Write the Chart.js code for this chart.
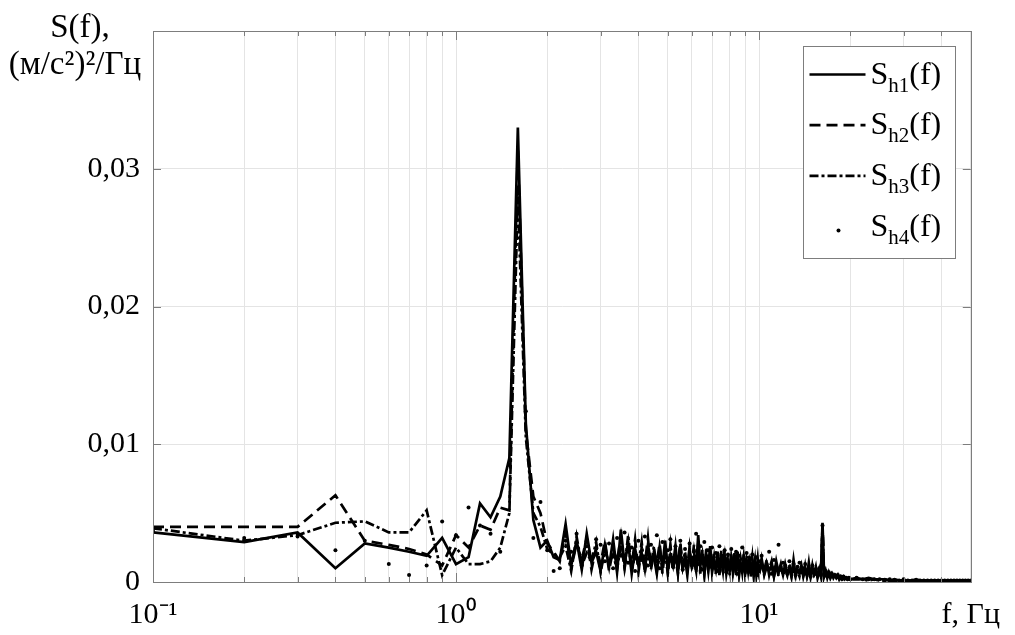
<!DOCTYPE html>
<html>
<head>
<meta charset="utf-8">
<title>S(f)</title>
<script src="https://cdn.jsdelivr.net/npm/chart.js"></script>
<style>
  body { margin: 0; background: #fff; }
</style>
</head>
<body>
<canvas id="myChart" width="1015" height="635"></canvas>
<script>

// frequency, Hz
var freq = [
  0.1, 0.2, 0.3, 0.4, 0.5, 0.6, 0.7, 0.8, 0.9, 1.0,
  1.1, 1.2, 1.3, 1.4, 1.5, 1.6, 1.7, 1.8, 1.9, 2.0,
  2.1, 2.2, 2.3, 2.4, 2.5, 2.6, 2.7, 2.8, 2.9, 3.0,
  3.1, 3.2, 3.3, 3.4, 3.5, 3.6, 3.7, 3.8, 3.9, 4.0,
  4.1, 4.2, 4.3, 4.4, 4.5, 4.6, 4.7, 4.8, 4.9, 5.0,
  5.1, 5.2, 5.3, 5.4, 5.5, 5.6, 5.7, 5.8, 5.9, 6.0,
  6.1, 6.2, 6.3, 6.4, 6.5, 6.6, 6.7, 6.8, 6.9, 7.0,
  7.1, 7.2, 7.3, 7.4, 7.5, 7.6, 7.7, 7.8, 7.9, 8.0,
  8.1, 8.2, 8.3, 8.4, 8.5, 8.6, 8.7, 8.8, 8.9, 9.0,
  9.1, 9.2, 9.3, 9.4, 9.5, 9.6, 9.7, 9.8, 9.9, 10.0,
  10.2, 10.4, 10.6, 10.8, 11.0, 11.2, 11.4, 11.6, 11.8, 12.0,
  12.2, 12.4, 12.6, 12.8, 13.0, 13.2, 13.4, 13.6, 13.8, 14.0,
  14.2, 14.4, 14.6, 14.8, 15.0, 15.2, 15.4, 15.6, 15.8, 16.0,
  16.2, 16.4, 16.6, 16.8, 17.0, 17.2, 17.4, 17.6, 17.8, 18.0,
  18.2, 18.4, 18.6, 18.8, 19.0, 19.2, 19.4, 19.6, 19.8, 20.0,
  21, 22, 23, 24, 25, 26, 27, 28, 29, 30,
  31, 32, 33, 34, 35, 36, 37, 38, 39, 40,
  41, 42, 43, 44, 45, 46, 47, 48, 49, 50
];

// S_h1(f), (m/s^2)^2/Hz
var sh1 = [
  0.0036, 0.0029, 0.0036, 0.0010, 0.0028, 0.0025, 0.0022, 0.0019, 0.0032, 0.0013,
  0.0018, 0.0057, 0.0047, 0.0062, 0.0090, 0.0330, 0.0115, 0.0045, 0.0025, 0.0030,
  0.0018, 0.0016, 0.0042, 0.0012, 0.0030, 0.0009, 0.0035, 0.0014, 0.0022, 0.0008,
  0.0027, 0.0011, 0.0031, 0.0007, 0.0038, 0.0013, 0.0029, 0.0006, 0.0024, 0.0012,
  0.0021, 0.0009, 0.0027, 0.0014, 0.0018, 0.0006, 0.0025, 0.0011, 0.0030, 0.0008,
  0.0019, 0.0012, 0.0026, 0.0007, 0.0022, 0.0010, 0.0017, 0.0005, 0.0023, 0.0011,
  0.0016, 0.0008, 0.0034, 0.0012, 0.0020, 0.0006, 0.0018, 0.0010, 0.0026, 0.0007,
  0.0015, 0.0009, 0.0021, 0.0005, 0.0017, 0.0011, 0.0019, 0.0006, 0.0014, 0.0008,
  0.0020, 0.0007, 0.0016, 0.0010, 0.0022, 0.0005, 0.0013, 0.0009, 0.0018, 0.0006,
  0.0015, 0.0008, 0.0019, 0.0004, 0.0012, 0.0009, 0.0016, 0.0005, 0.0013, 0.0007,
  0.0017, 0.0006, 0.0014, 0.0008, 0.0012, 0.0004, 0.0015, 0.0007, 0.0011, 0.0005,
  0.0013, 0.0006, 0.0010, 0.0004, 0.0016, 0.0005, 0.0009, 0.0007, 0.0012, 0.0004,
  0.0010, 0.0005, 0.0014, 0.0004, 0.0009, 0.0006, 0.0011, 0.0003, 0.0008, 0.0005,
  0.0043, 0.0004, 0.0008, 0.0003, 0.0007, 0.0004, 0.0006, 0.0003, 0.0005, 0.0003,
  0.0005, 0.0002, 0.0004, 0.0003, 0.0004, 0.0002, 0.0003, 0.0002, 0.0003, 0.0002,
  0.0003, 0.0002, 0.0003, 0.0002, 0.0002, 0.0002, 0.0001, 0.0002, 0.0001, 0.0001,
  0.0001, 0.0001, 0.0002, 0.0001, 0.0001, 0.0001, 0.0001, 0.0001, 0.0001, 0.0001,
  0.0001, 0.0001, 0.0001, 0.0001, 0.0001, 0.0001, 0.0001, 0.0001, 0.0001, 0.0001
];

// S_h2(f)
var sh2 = [
  0.0040, 0.0040, 0.0040, 0.0063, 0.0030, 0.0027, 0.0024, 0.0020, 0.0012, 0.0034,
  0.0025, 0.0041, 0.0038, 0.0054, 0.0052, 0.0315, 0.0110, 0.0062, 0.0050, 0.0028,
  0.0022, 0.0015, 0.0036, 0.0010, 0.0028, 0.0016, 0.0032, 0.0009, 0.0025, 0.0013,
  0.0030, 0.0008, 0.0024, 0.0015, 0.0033, 0.0010, 0.0026, 0.0012, 0.0031, 0.0007,
  0.0025, 0.0013, 0.0032, 0.0009, 0.0022, 0.0014, 0.0028, 0.0006, 0.0024, 0.0012,
  0.0027, 0.0008, 0.0021, 0.0013, 0.0029, 0.0007, 0.0020, 0.0011, 0.0025, 0.0009,
  0.0022, 0.0010, 0.0028, 0.0006, 0.0024, 0.0012, 0.0019, 0.0008, 0.0023, 0.0010,
  0.0018, 0.0006, 0.0022, 0.0011, 0.0016, 0.0008, 0.0024, 0.0007, 0.0018, 0.0010,
  0.0015, 0.0009, 0.0021, 0.0006, 0.0019, 0.0011, 0.0014, 0.0007, 0.0020, 0.0008,
  0.0016, 0.0006, 0.0013, 0.0010, 0.0018, 0.0005, 0.0014, 0.0009, 0.0017, 0.0006,
  0.0013, 0.0008, 0.0016, 0.0005, 0.0012, 0.0009, 0.0014, 0.0004, 0.0011, 0.0007,
  0.0010, 0.0005, 0.0013, 0.0007, 0.0009, 0.0004, 0.0012, 0.0006, 0.0010, 0.0005,
  0.0012, 0.0004, 0.0009, 0.0006, 0.0011, 0.0004, 0.0008, 0.0005, 0.0009, 0.0004,
  0.0042, 0.0005, 0.0007, 0.0004, 0.0006, 0.0003, 0.0006, 0.0004, 0.0005, 0.0003,
  0.0004, 0.0003, 0.0004, 0.0002, 0.0003, 0.0003, 0.0003, 0.0002, 0.0002, 0.0002,
  0.0002, 0.0002, 0.0002, 0.0002, 0.0001, 0.0002, 0.0001, 0.0001, 0.0001, 0.0001,
  0.0001, 0.0001, 0.0001, 0.0001, 0.0001, 0.0001, 0.0001, 0.0001, 0.0001, 0.0001,
  0.0001, 0.0001, 0.0001, 0.0001, 0.0001, 0.0001, 0.0001, 0.0001, 0.0001, 0.0001
];

// S_h3(f)
var sh3 = [
  0.0039, 0.0030, 0.0034, 0.0043, 0.0044, 0.0036, 0.0036, 0.0052, 0.0005, 0.0025,
  0.0013, 0.0013, 0.0015, 0.0025, 0.0050, 0.0280, 0.0105, 0.0050, 0.0040, 0.0024,
  0.0020, 0.0018, 0.0026, 0.0008, 0.0033, 0.0012, 0.0021, 0.0015, 0.0029, 0.0007,
  0.0023, 0.0014, 0.0020, 0.0009, 0.0027, 0.0011, 0.0034, 0.0008, 0.0020, 0.0013,
  0.0029, 0.0007, 0.0021, 0.0012, 0.0026, 0.0008, 0.0019, 0.0014, 0.0022, 0.0006,
  0.0024, 0.0010, 0.0018, 0.0006, 0.0027, 0.0012, 0.0022, 0.0008, 0.0019, 0.0013,
  0.0027, 0.0007, 0.0021, 0.0011, 0.0016, 0.0005, 0.0025, 0.0009, 0.0017, 0.0012,
  0.0021, 0.0007, 0.0015, 0.0010, 0.0023, 0.0006, 0.0016, 0.0012, 0.0020, 0.0005,
  0.0018, 0.0010, 0.0014, 0.0005, 0.0021, 0.0008, 0.0017, 0.0011, 0.0013, 0.0005,
  0.0019, 0.0007, 0.0015, 0.0010, 0.0012, 0.0004, 0.0017, 0.0008, 0.0011, 0.0006,
  0.0014, 0.0005, 0.0011, 0.0009, 0.0015, 0.0004, 0.0010, 0.0007, 0.0013, 0.0005,
  0.0009, 0.0007, 0.0012, 0.0004, 0.0010, 0.0006, 0.0008, 0.0004, 0.0011, 0.0005,
  0.0008, 0.0005, 0.0010, 0.0004, 0.0012, 0.0005, 0.0007, 0.0004, 0.0009, 0.0003,
  0.0040, 0.0004, 0.0006, 0.0003, 0.0007, 0.0003, 0.0005, 0.0003, 0.0004, 0.0003,
  0.0004, 0.0002, 0.0003, 0.0003, 0.0003, 0.0002, 0.0002, 0.0002, 0.0003, 0.0002,
  0.0002, 0.0002, 0.0001, 0.0002, 0.0001, 0.0001, 0.0001, 0.0001, 0.0001, 0.0001,
  0.0001, 0.0001, 0.0001, 0.0001, 0.0001, 0.0001, 0.0001, 0.0001, 0.0001, 0.0001,
  0.0001, 0.0001, 0.0001, 0.0001, 0.0001, 0.0001, 0.0001, 0.0001, 0.0001, 0.0001
];

// S_h4(f)
var sh4 = [
  0.0037, 0.0032, 0.0033, 0.0023, 0.0030, 0.0013, 0.0005, 0.0012, 0.0044, 0.0034,
  0.0054, 0.0041, 0.0035, 0.0022, 0.0085, 0.0300, 0.0124, 0.0032, 0.0058, 0.0023,
  0.0008, 0.0010, 0.0030, 0.0022, 0.0035, 0.0012, 0.0026, 0.0018, 0.0031, 0.0027,
  0.0015, 0.0028, 0.0010, 0.0032, 0.0019, 0.0036, 0.0014, 0.0025, 0.0008, 0.0030,
  0.0016, 0.0033, 0.0012, 0.0027, 0.0020, 0.0034, 0.0010, 0.0029, 0.0018, 0.0023,
  0.0031, 0.0011, 0.0026, 0.0017, 0.0030, 0.0009, 0.0024, 0.0015, 0.0028, 0.0012,
  0.0022, 0.0035, 0.0013, 0.0026, 0.0009, 0.0029, 0.0016, 0.0023, 0.0011, 0.0025,
  0.0014, 0.0021, 0.0008, 0.0026, 0.0012, 0.0019, 0.0023, 0.0007, 0.0020, 0.0013,
  0.0024, 0.0010, 0.0018, 0.0022, 0.0006, 0.0019, 0.0012, 0.0025, 0.0009, 0.0016,
  0.0021, 0.0011, 0.0017, 0.0007, 0.0020, 0.0013, 0.0009, 0.0018, 0.0005, 0.0015,
  0.0019, 0.0008, 0.0013, 0.0022, 0.0006, 0.0016, 0.0011, 0.0027, 0.0009, 0.0014,
  0.0012, 0.0006, 0.0015, 0.0009, 0.0013, 0.0005, 0.0011, 0.0014, 0.0007, 0.0010,
  0.0013, 0.0006, 0.0010, 0.0004, 0.0012, 0.0007, 0.0009, 0.0005, 0.0010, 0.0006,
  0.0041, 0.0005, 0.0008, 0.0004, 0.0007, 0.0005, 0.0006, 0.0004, 0.0005, 0.0004,
  0.0005, 0.0003, 0.0004, 0.0002, 0.0004, 0.0003, 0.0003, 0.0002, 0.0003, 0.0002,
  0.0003, 0.0002, 0.0002, 0.0002, 0.0002, 0.0001, 0.0002, 0.0001, 0.0001, 0.0002,
  0.0001, 0.0001, 0.0001, 0.0001, 0.0001, 0.0001, 0.0001, 0.0001, 0.0001, 0.0001,
  0.0001, 0.0001, 0.0001, 0.0001, 0.0001, 0.0001, 0.0001, 0.0001, 0.0001, 0.0001
];

var seriesSubs = ['h1', 'h2', 'h3', 'h4'];

// grid lines on the log axis and the labels shown under them
var xGridValues = [0.1, 0.2, 0.3, 0.4, 0.5, 0.6, 0.7, 0.8, 0.9,
                   1, 2, 3, 4, 5, 6, 7, 8, 9,
                   10, 20, 30, 40, 50];
var xTickLabels = { '0.1': '10\u207B\u00B9', '1': '10\u2070', '10': '10\u00B9', '50': 'f, \u0413\u0446' };
var yTickValues = [0, 0.01, 0.02, 0.03, 0.04];
var yTickLabels = ['0', '0,01', '0,02', '0,03', ''];

var serif = "'Liberation Serif', 'Times New Roman', serif";

function points(values) {
    return freq.map(function (f, i) { return { x: f, y: values[i] }; });
}

// box round the plot and MATLAB-style ticks pointing inwards
var framePlugin = {
    id: 'frame',
    afterDraw: function (chart) {
        var c = chart.ctx, a = chart.chartArea;
        var xs = chart.scales.x, ys = chart.scales.y;
        c.save();
        c.strokeStyle = '#7d7d7d';
        c.lineWidth = 1;
        c.beginPath();
        xs.ticks.forEach(function (t) {
            var px = Math.round(xs.getPixelForValue(t.value)) + 0.5;
            var len = xTickLabels[String(t.value)] && t.value !== 50 ? 9 : 5;
            c.moveTo(px, a.bottom); c.lineTo(px, a.bottom - len);
            c.moveTo(px, a.top); c.lineTo(px, a.top + len);
        });
        ys.ticks.forEach(function (t) {
            var py = Math.round(ys.getPixelForValue(t.value)) + 0.5;
            c.moveTo(a.left, py); c.lineTo(a.left + 8, py);
            c.moveTo(a.right, py); c.lineTo(a.right - 8, py);
        });
        c.stroke();
        c.strokeRect(Math.round(a.left) + 0.5, Math.round(a.top) + 0.5,
                     Math.round(a.right - a.left), Math.round(a.bottom - a.top));
        c.restore();
    }
};

// y axis caption above the tick labels
var captionPlugin = {
    id: 'caption',
    afterDraw: function (chart) {
        var c = chart.ctx;
        c.save();
        c.fillStyle = '#000';
        c.textAlign = 'center';
        c.textBaseline = 'alphabetic';
        c.font = '33px ' + serif;
        c.fillText('S(f),', 80, 37);
        c.fillText('(\u043C/\u0441\u00B2)\u00B2/\u0413\u0446', 75, 74);
        c.restore();
    }
};

// legend with subscripts, drawn from the dataset styles
var legendPlugin = {
    id: 'subLegend',
    afterDraw: function (chart) {
        var c = chart.ctx, a = chart.chartArea;
        var bx = Math.round(a.right - 168) + 0.5, by = Math.round(a.top + 15) + 0.5;
        c.save();
        c.fillStyle = '#fff';
        c.fillRect(bx, by, 152, 212);
        c.strokeStyle = '#7d7d7d';
        c.lineWidth = 1;
        c.strokeRect(bx, by, 152, 212);
        chart.data.datasets.forEach(function (ds, i) {
            var base = by + 37 + i * 50.7;
            if (ds.showLine === false) {
                c.fillStyle = '#000';
                c.beginPath();
                c.arc(bx + 35, base - 5, 2, 0, Math.PI * 2);
                c.fill();
            } else {
                c.strokeStyle = ds.borderColor;
                c.lineWidth = ds.borderWidth;
                c.setLineDash(ds.borderDash || []);
                c.beginPath();
                c.moveTo(bx + 6, base - 9);
                c.lineTo(bx + 62, base - 9);
                c.stroke();
                c.setLineDash([]);
            }
            var tx = bx + 67;
            c.fillStyle = '#000';
            c.textAlign = 'left';
            c.textBaseline = 'alphabetic';
            c.font = '32px ' + serif;
            c.fillText('S', tx, base);
            tx += c.measureText('S').width;
            c.font = '21px ' + serif;
            c.fillText(seriesSubs[i], tx, base + 8);
            tx += c.measureText(seriesSubs[i]).width;
            c.font = '32px ' + serif;
            c.fillText('(f)', tx, base);
        });
        c.restore();
    }
};

var ctx = document.getElementById('myChart').getContext('2d');
var chart = new Chart(ctx, {
    // The type of chart we want to create
    type: 'line',

    // The data for our dataset
    data: {
        datasets: [{
            label: 'S_h1(f)',
            data: points(sh1),
            borderColor: '#000',
            borderWidth: 2.7,
            pointRadius: 0
        }, {
            label: 'S_h2(f)',
            data: points(sh2),
            borderColor: '#000',
            borderWidth: 2.7,
            borderDash: [11, 6],
            pointRadius: 0
        }, {
            label: 'S_h3(f)',
            data: points(sh3),
            borderColor: '#000',
            borderWidth: 2.7,
            borderDash: [9, 3, 3, 3],
            pointRadius: 0
        }, {
            label: 'S_h4(f)',
            data: points(sh4),
            showLine: false,
            pointRadius: 2,
            pointBorderWidth: 0,
            pointBackgroundColor: '#000'
        }]
    },

    // Configuration options go here
    options: {
        responsive: false,
        animation: false,
        events: [],
        layout: { padding: { top: 30, right: 36, left: 0, bottom: 0 } },
        plugins: {
            legend: { display: false },
            tooltip: { enabled: false }
        },
        scales: {
            x: {
                type: 'logarithmic',
                min: 0.1,
                max: 50,
                afterBuildTicks: function (scale) {
                    scale.ticks = xGridValues.map(function (v) { return { value: v }; });
                },
                afterFit: function (scale) { scale.height = 53; },
                ticks: {
                    autoSkip: false,
                    maxRotation: 0,
                    padding: 15,
                    color: '#000',
                    font: { family: serif, size: 30 },
                    callback: function (value) { return xTickLabels[String(value)] || ''; }
                },
                grid: { color: '#e4e4e4', lineWidth: 1, drawTicks: false },
                border: { display: true, color: '#7d7d7d', width: 1 }
            },
            y: {
                min: 0,
                max: 0.04,
                afterBuildTicks: function (scale) {
                    scale.ticks = yTickValues.map(function (v) { return { value: v }; });
                },
                afterFit: function (scale) { scale.width = 153; },
                ticks: {
                    padding: 13,
                    color: '#000',
                    font: { family: serif, size: 30 },
                    callback: function (value, index) { return yTickLabels[index]; }
                },
                grid: { color: '#e4e4e4', lineWidth: 1, drawTicks: false },
                border: { display: true, color: '#7d7d7d', width: 1 }
            }
        }
    },
    plugins: [framePlugin, captionPlugin, legendPlugin]
});

</script>
</body>
</html>
